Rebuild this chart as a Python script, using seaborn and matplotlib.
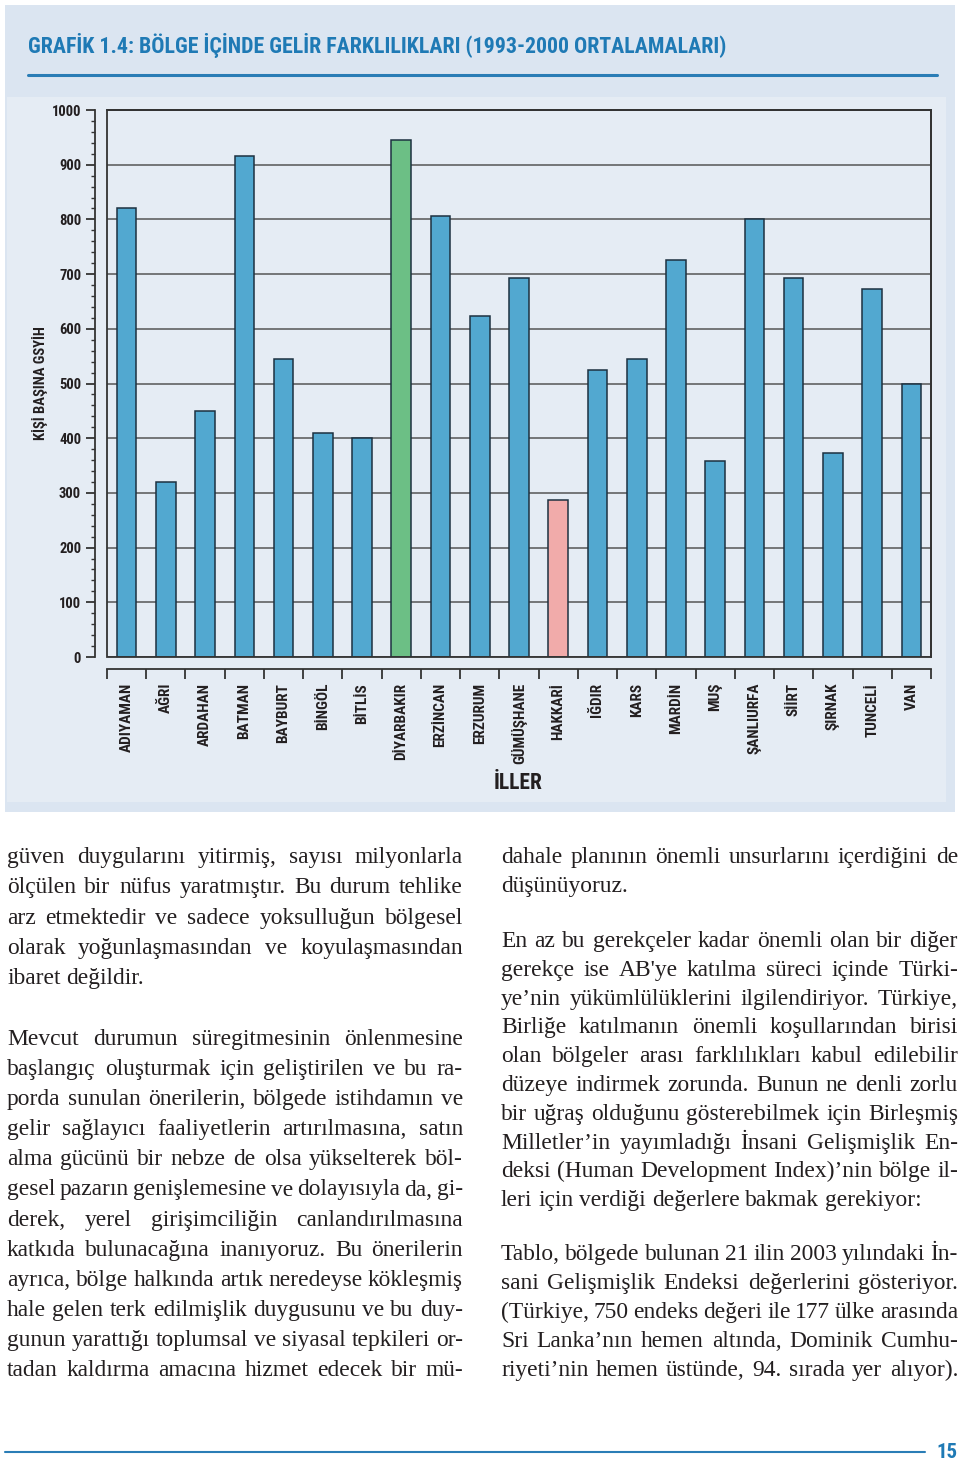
import numpy as np
import pandas as pd
import matplotlib
matplotlib.use("Agg")
import matplotlib.pyplot as plt
import seaborn as sns
from matplotlib import font_manager as fm
from matplotlib.patches import Rectangle
from matplotlib.lines import Line2D
from matplotlib.ticker import MultipleLocator, FixedLocator

# ---------------- data ----------------
provinces = ["ADIYAMAN", "AĞRI", "ARDAHAN", "BATMAN", "BAYBURT", "BİNGÖL", "BİTLİS",
             "DİYARBAKIR", "ERZİNCAN", "ERZURUM", "GÜMÜŞHANE", "HAKKARİ", "IĞDIR",
             "KARS", "MARDİN", "MUŞ", "ŞANLIURFA", "SİİRT", "ŞIRNAK", "TUNCELİ", "VAN"]
gdp_per_capita = [821, 320, 450, 915, 544, 410, 400, 945, 806, 623, 692, 287, 525,
                  544, 725, 358, 800, 693, 373, 673, 500]
highest_province = "DİYARBAKIR"
lowest_province = "HAKKARİ"
y_ticks = [0, 100, 200, 300, 400, 500, 600, 700, 800, 900, 1000]

title = "GRAFİK 1.4: BÖLGE İÇİNDE GELİR FARKLILIKLARI (1993-2000 ORTALAMALARI)"
y_label = "KİŞİ BAŞINA GSYİH"
x_label = "İLLER"
page_number = "15"

left_col = [
    ["güven duygularını yitirmiş, sayısı milyonlarla",
     "ölçülen bir nüfus yaratmıştır. Bu durum tehlike",
     "arz etmektedir ve sadece yoksulluğun bölgesel",
     "olarak yoğunlaşmasından ve koyulaşmasından",
     "ibaret değildir."],
    ["Mevcut durumun süregitmesinin önlenmesine",
     "başlangıç oluşturmak için geliştirilen ve bu ra-",
     "porda sunulan önerilerin, bölgede istihdamın ve",
     "gelir sağlayıcı faaliyetlerin artırılmasına, satın",
     "alma gücünü bir nebze de olsa yükselterek böl-",
     "gesel pazarın genişlemesine ve dolayısıyla da, gi-",
     "derek, yerel girişimciliğin canlandırılmasına",
     "katkıda bulunacağına inanıyoruz. Bu önerilerin",
     "ayrıca, bölge halkında artık neredeyse kökleşmiş",
     "hale gelen terk edilmişlik duygusunu ve bu duy-",
     "gunun yarattığı toplumsal ve siyasal tepkileri or-",
     "tadan kaldırma amacına hizmet edecek bir mü-"],
]
right_col = [
    ["dahale planının önemli unsurlarını içerdiğini de",
     "düşünüyoruz."],
    ["En az bu gerekçeler kadar önemli olan bir diğer",
     "gerekçe ise AB'ye katılma süreci içinde Türki-",
     "ye’nin yükümlülüklerini ilgilendiriyor. Türkiye,",
     "Birliğe katılmanın önemli koşullarından birisi",
     "olan bölgeler arası farklılıkları kabul edilebilir",
     "düzeye indirmek zorunda. Bunun ne denli zorlu",
     "bir uğraş olduğunu gösterebilmek için Birleşmiş",
     "Milletler’in yayımladığı İnsani Gelişmişlik En-",
     "deksi (Human Development Index)’nin bölge il-",
     "leri için verdiği değerlere bakmak gerekiyor:"],
    ["Tablo, bölgede bulunan 21 ilin 2003 yılındaki İn-",
     "sani Gelişmişlik Endeksi değerlerini gösteriyor.",
     "(Türkiye, 750 endeks değeri ile 177 ülke arasında",
     "Sri Lanka’nın hemen altında, Dominik Cumhu-",
     "riyeti’nin hemen üstünde, 94. sırada yer alıyor)."],
]

# ---------------- style ----------------
sns.set_theme(style="white")
ttf = fm.fontManager.ttflist
avail = {f.name for f in ttf}

COND, STRETCH = None, "normal"
for name in ["Liberation Sans Narrow", "DejaVu Sans Condensed", "Roboto Condensed",
             "Open Sans Condensed", "Noto Sans Condensed", "Arial Narrow"]:
    if name in avail:
        COND, STRETCH = name, "normal"
        break
if COND is None:
    narrow = [f for f in ttf if ("Narrow" in f.name or "Condensed" in f.name)]
    if narrow:
        COND = narrow[0].name
if COND is None:
    condensed = [f for f in ttf if str(f.stretch) in ("condensed", "semi-condensed",
                                                        "extra-condensed", "ultra-condensed")]
    if condensed:
        COND, STRETCH = condensed[0].name, condensed[0].stretch
if COND is None:
    COND = "Roboto" if "Roboto" in avail else "DejaVu Sans"
    STRETCH = "condensed"

SERIF = "Liberation Serif" if "Liberation Serif" in avail else "DejaVu Serif"
plt.rcParams["font.family"] = [COND, "DejaVu Sans"]
plt.rcParams["font.stretch"] = STRETCH

BAR_BLUE = "#52a8d0"
BAR_GREEN = "#6cbf85"
BAR_PINK = "#f1abaa"
EDGE = "#1d3140"
INK = "#231f20"
TITLE_BLUE = "#1f7ab5"
OUTER_BG = "#dbe5f1"
INNER_BG = "#e5ecf4"
GRID = "#555555"
FRAME = "#333333"

W, H = 960, 1461
fig = plt.figure(figsize=(W / 100, H / 100), dpi=100)
fig.patch.set_facecolor("white")


def fx(x):
    return x / W


def fy(y):
    return 1 - y / H


COND_KW = dict(family=[COND, "DejaVu Sans"], fontstretch=STRETCH, fontweight="bold")

# chart panels
fig.patches.append(Rectangle((fx(5), fy(812)), fx(955) - fx(5), fy(5) - fy(812),
                             transform=fig.transFigure, facecolor=OUTER_BG,
                             edgecolor="none", zorder=-10))
fig.patches.append(Rectangle((fx(7), fy(802)), fx(946) - fx(7), fy(97) - fy(802),
                             transform=fig.transFigure, facecolor=INNER_BG,
                             edgecolor="none", zorder=-9))

# title
t = fig.text(fx(28), fy(45), title, color=TITLE_BLUE, fontsize=20,
             ha="left", va="center", **COND_KW)
fig.canvas.draw()
renderer = fig.canvas.get_renderer()
tw = t.get_window_extent(renderer).width
t.set_fontsize(min(22, 20 * 698 / tw))
fig.lines.append(Line2D([fx(28), fx(937)], [fy(75), fy(75)], transform=fig.transFigure,
                        color="#2a7db6", lw=2.2))

# ---------------- chart ----------------
ax = fig.add_axes([fx(107), fy(657), fx(931) - fx(107), fy(110) - fy(657)])
ax.set_facecolor("none")
df = pd.DataFrame({"il": provinces, "gsyih": gdp_per_capita})
palette = {p: (BAR_GREEN if p == highest_province else BAR_PINK if p == lowest_province else BAR_BLUE)
           for p in provinces}
sns.barplot(data=df, x="il", y="gsyih", hue="il", palette=palette, legend=False,
            width=0.5, edgecolor=EDGE, linewidth=1.1, saturation=1, ax=ax, zorder=3)

# spines first (repositioning resets ticks)
for side in ["left", "bottom"]:
    ax.spines[side].set_position(("outward", 8.6))
    ax.spines[side].set_color(FRAME)
    ax.spines[side].set_linewidth(1.3)
for side in ["top", "right"]:
    ax.spines[side].set_color(FRAME)
    ax.spines[side].set_linewidth(1.3)
ax.add_patch(Rectangle((0, 0), 1, 1, transform=ax.transAxes, fill=False,
                       edgecolor=FRAME, lw=1.3, zorder=4, clip_on=False))

ax.set_xlim(-0.5, len(provinces) - 0.5)
ax.set_ylim(y_ticks[0], y_ticks[-1])
ax.set_yticks(y_ticks)
ax.set_yticklabels([str(v) for v in y_ticks], fontsize=10.5, color=INK, **COND_KW)
ax.yaxis.set_minor_locator(MultipleLocator(20))
ax.yaxis.grid(True, which="major", color=GRID, lw=1.1, zorder=1)
ax.xaxis.grid(False)
ax.set_axisbelow(True)

ax.set_xticks(range(len(provinces)))
ax.set_xticklabels(provinces, rotation=90, fontsize=11, color=INK, va="top",
                   ha="center", **COND_KW)
ax.xaxis.set_minor_locator(FixedLocator(np.arange(-0.5, len(provinces), 1)))
ax.tick_params(axis="x", which="major", length=0, pad=10, bottom=True)
ax.tick_params(axis="x", which="minor", length=7, width=1.3, color=FRAME,
               direction="out", bottom=True)
ax.tick_params(axis="y", which="major", length=6.5, width=1.3, color=FRAME,
               direction="out", pad=3.5, left=True)
ax.tick_params(axis="y", which="minor", length=3.2, width=1.0, color=FRAME,
               direction="out", left=True)
ax.set_xlabel("")
ax.set_ylabel("")

fig.text(fx(40), fy(383), y_label, rotation=90, ha="center", va="center",
         fontsize=10.5, color=INK, **COND_KW)
fig.text(fx(518), fy(783), x_label, ha="center", va="center",
         fontsize=15.5, color=INK, **COND_KW)

# ---------------- body text (justified) ----------------
fig.canvas.draw()
renderer = fig.canvas.get_renderer()


def measure(s, size):
    tt = fig.text(0, 0, s, family=SERIF, fontsize=size)
    w = tt.get_window_extent(renderer).width
    tt.remove()
    return w


all_lines = [l for col in (left_col, right_col) for para in col for l in para]
base_size = 20
sp0 = measure("x x", base_size) - 2 * measure("x", base_size)
# allow word gaps to shrink to 75% of a normal space on the tightest line
tight = max(measure(l, base_size) - 0.25 * sp0 * l.count(" ") for l in all_lines)
body_size = base_size * min(1.0, 458 / tight)
space_w = measure("x x", body_size) - 2 * measure("x", body_size)


def place_line(line, x0, x1, ybase, justify):
    words = line.split(" ")
    objs = [fig.text(0, 0, w, family=SERIF, fontsize=body_size, color=INK,
                     ha="left", va="baseline") for w in words]
    widths = [o.get_window_extent(renderer).width for o in objs]
    if justify and len(words) > 1:
        gap = (x1 - x0 - sum(widths)) / (len(words) - 1)
    else:
        gap = space_w
    x = x0
    for o, w in zip(objs, widths):
        o.set_position((fx(x), fy(ybase)))
        x += w + gap


def place_paragraph(lines, x0, x1, y_first, step, last_justified=False):
    for i, line in enumerate(lines):
        last = i == len(lines) - 1
        place_line(line, x0, x1, y_first + i * step, (not last) or last_justified)


place_paragraph(left_col[0], 7, 463, 863, 30.25)
place_paragraph(left_col[1], 7, 463, 1045, 30.1, last_justified=True)
place_paragraph(right_col[0], 501, 958, 863, 29.0)
place_paragraph(right_col[1], 501, 958, 947, 28.8)
place_paragraph(right_col[2], 501, 958, 1260, 29.0, last_justified=True)

# footer
fig.lines.append(Line2D([fx(5), fx(925)], [fy(1452), fy(1452)], transform=fig.transFigure,
                        color="#2a7db6", lw=1.5))
fig.text(fx(958), fy(1452), page_number, ha="right", va="center", fontsize=15,
         color=TITLE_BLUE, **COND_KW)

fig.savefig("out.png", dpi=100, facecolor="white")
